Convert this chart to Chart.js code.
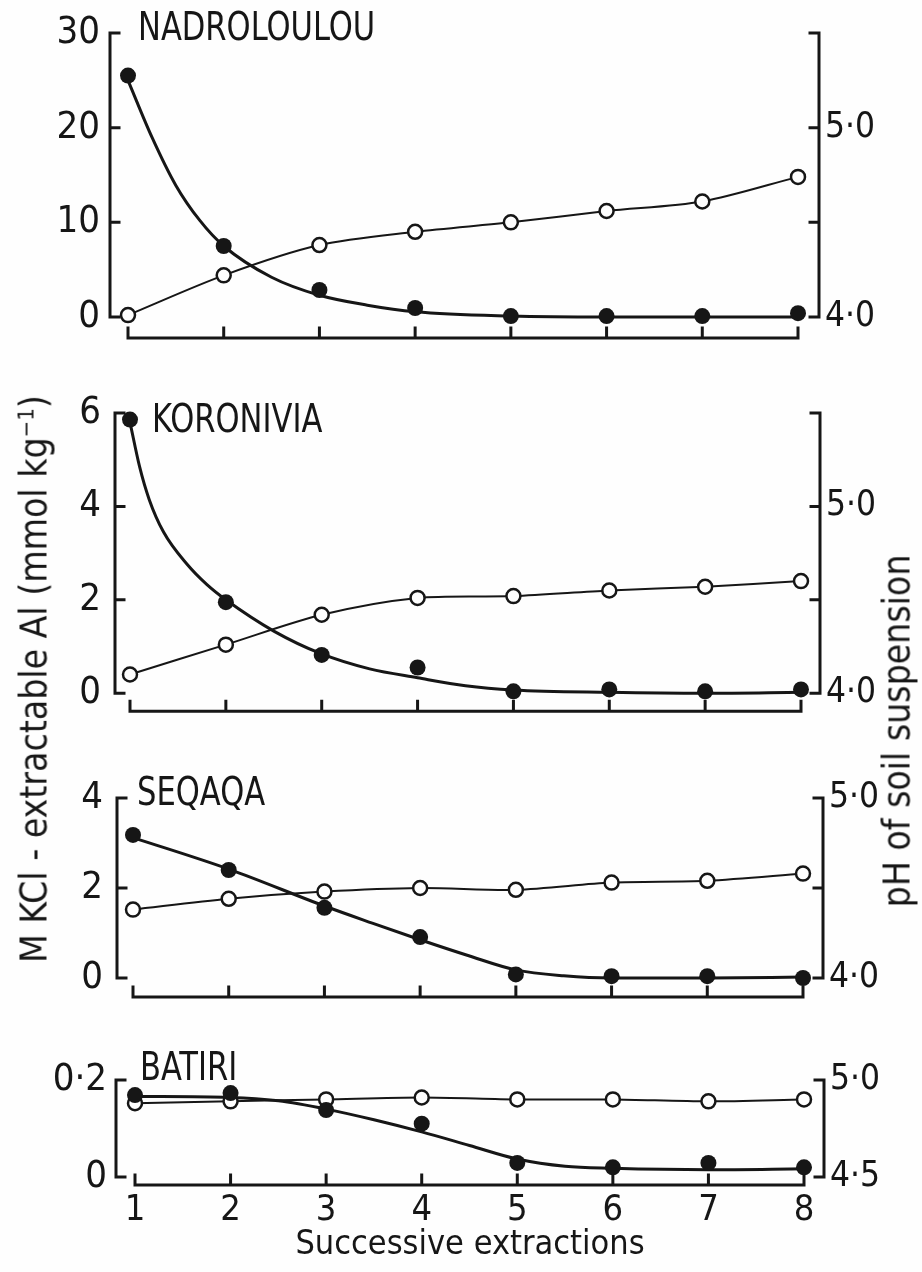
<!DOCTYPE html>
<html>
<head>
<meta charset="utf-8">
<title>Successive KCl extractions</title>
<script src="https://cdn.jsdelivr.net/npm/chart.js@4.4.1/dist/chart.umd.min.js"></script>
<style>
body {
	margin: 0;
	width: 922px;
	height: 1272px;
	position: relative;
	overflow: hidden;
	background: #fefefe;
	color: #161616;
	font-family: 'DejaVu Sans Condensed', 'Liberation Sans Narrow', 'DejaVu Sans', sans-serif;
}
canvas { position: absolute; left: 0; }
.axis-title {
	position: absolute;
	white-space: nowrap;
	font-size: 37px;
	transform: translate(-50%, -50%) rotate(-90deg);
}
.axis-title sup { font-size: 22px; }
</style>
</head>
<body>
<canvas id="nadChart"></canvas>
<canvas id="korChart"></canvas>
<canvas id="seqChart"></canvas>
<canvas id="batChart"></canvas>
<div class="axis-title" style="left:34px; top:679px;">M KCl - extractable Al (mmol kg<sup>−1</sup>)</div>
<div class="axis-title" style="left:897px; top:731px;">pH of soil suspension</div>

<script>
"use strict";

var extractions = [1, 2, 3, 4, 5, 6, 7, 8];

// NADROLOULOU
var nadAl = [25.5, 7.5, 2.85, 0.95, 0.1, 0.1, 0.1, 0.4];
var nadPh = [4.01, 4.22, 4.38, 4.45, 4.50, 4.56, 4.61, 4.74];
var nadFitX = [1, 1.25, 1.5, 1.75, 2, 2.5, 3, 3.5, 4, 5, 6, 7, 8];
var nadFitAl = [25.0, 19.0, 13.9, 10.2, 7.5, 4.2, 2.3, 1.25, 0.55, 0.1, 0, 0, 0];
var nadAlTicks = [0, 10, 20, 30];
var nadPhTicks = [4.0, 4.5, 5.0, 5.5];
var nadPhLabels = [4.0, 5.0];

// KORONIVIA
var korAl = [5.86, 1.95, 0.82, 0.55, 0.04, 0.08, 0.04, 0.08];
var korPh = [4.10, 4.26, 4.42, 4.51, 4.52, 4.55, 4.57, 4.60];
var korFitX = [1, 1.1, 1.2, 1.35, 1.6, 1.8, 2, 2.5, 3, 3.5, 4, 4.5, 5, 6, 7, 8];
var korFitAl = [5.8, 4.85, 4.15, 3.45, 2.75, 2.33, 2.0, 1.33, 0.84, 0.52, 0.33, 0.16, 0.07, 0.02, 0.0, 0.02];
var korAlTicks = [0, 2, 4, 6];
var korPhTicks = [4.0, 4.5, 5.0, 5.5];
var korPhLabels = [4.0, 5.0];

// SEQAQA
var seqAl = [3.18, 2.4, 1.56, 0.91, 0.08, 0.04, 0.04, 0.0];
var seqPh = [4.38, 4.44, 4.48, 4.50, 4.49, 4.53, 4.54, 4.58];
var seqFitX = [1, 2, 3, 3.5, 4, 4.5, 5, 5.5, 6, 7, 8];
var seqFitAl = [3.12, 2.42, 1.6, 1.22, 0.85, 0.5, 0.18, 0.05, 0.0, 0.0, 0.02];
var seqAlTicks = [0, 2, 4];
var seqPhTicks = [4.0, 4.5, 5.0];
var seqPhLabels = [4.0, 5.0];

// BATIRI
var batAl = [0.169, 0.173, 0.138, 0.11, 0.029, 0.02, 0.029, 0.02];
var batPh = [4.88, 4.89, 4.90, 4.91, 4.90, 4.90, 4.89, 4.90];
var batFitX = [1, 2, 2.5, 3, 3.5, 4, 4.5, 5, 5.5, 6, 7, 8];
var batFitAl = [0.166, 0.164, 0.157, 0.14, 0.118, 0.093, 0.065, 0.037, 0.022, 0.018, 0.015, 0.017];
var batAlTicks = [0, 0.2];
var batPhTicks = [4.5, 5.0];
var batPhLabels = [4.5, 5.0];

var FONT = "'DejaVu Sans Condensed', 'Liberation Sans Narrow', 'DejaVu Sans', sans-serif";
var INK = '#161616';
var PAGE_W = 922;

/*******************
  AXES + PANEL NAME
*******************/

// bracket style axes: ticks point inward, x axis sits below the zero line
var bracketAxes = {
	id: 'bracketAxes',
	beforeDatasetsDraw: function(chart, args, opts) {
		var ctx = chart.ctx;
		var area = chart.chartArea;
		var al = chart.scales.al;
		var ph = chart.scales.ph;
		var x = chart.scales.x;

		ctx.save();
		ctx.strokeStyle = INK;
		ctx.lineWidth = 3;
		ctx.lineCap = 'square';
		ctx.beginPath();

		ctx.moveTo(area.left, al.getPixelForValue(al.max));
		ctx.lineTo(area.left, al.getPixelForValue(al.min));
		al.ticks.forEach(function(t) {
			var py = al.getPixelForValue(t.value);
			ctx.moveTo(area.left, py);
			ctx.lineTo(area.left + 9, py);
		});

		ctx.moveTo(area.right, ph.getPixelForValue(ph.max));
		ctx.lineTo(area.right, ph.getPixelForValue(ph.min));
		ph.ticks.forEach(function(t) {
			var py = ph.getPixelForValue(t.value);
			ctx.moveTo(area.right, py);
			ctx.lineTo(area.right - 9, py);
		});

		var base = area.bottom + opts.gap;
		ctx.moveTo(x.getPixelForValue(1), base);
		ctx.lineTo(x.getPixelForValue(8), base);
		x.ticks.forEach(function(t) {
			var px = x.getPixelForValue(t.value);
			ctx.moveTo(px, base);
			ctx.lineTo(px, base - 10);
		});
		ctx.stroke();

		// the panel names are set in a tall, narrow face
		ctx.fillStyle = INK;
		ctx.font = '34px ' + FONT;
		ctx.textBaseline = 'middle';
		ctx.textAlign = 'left';
		ctx.translate(opts.nameX, opts.nameY);
		ctx.scale(1, 1.15);
		ctx.fillText(opts.name, 0, 0);
		ctx.restore();
	}
};

function dotted(v) {
	return String(v).replace('.', '·');
}

function pairs(xs, ys) {
	return xs.map(function(x, i) { return { x: x, y: ys[i] }; });
}

function drawPanel(canvasId, geo, d) {
	var canvas = document.getElementById(canvasId);
	canvas.width = PAGE_W;
	canvas.height = geo.height;
	canvas.style.top = geo.top + 'px';

	var plotTop = geo.plotTop - geo.top;
	var plotBottom = geo.plotBottom - geo.top;
	var unit = (geo.x8 - geo.x1) / 7;

	return new Chart(canvas, {
		type: 'scatter',
		data: {
			datasets: [{
				type: 'line',
				data: pairs(d.fitX, d.fitAl),
				yAxisID: 'al',
				borderColor: INK,
				borderWidth: 3,
				pointRadius: 0,
				cubicInterpolationMode: 'monotone',
				clip: false,
				order: 3
			}, {
				type: 'line',
				data: pairs(extractions, d.ph),
				yAxisID: 'ph',
				borderColor: INK,
				borderWidth: 2,
				tension: 0.3,
				pointRadius: 7,
				pointBorderWidth: 2.5,
				pointBorderColor: INK,
				pointBackgroundColor: '#fefefe',
				clip: false,
				order: 2
			}, {
				data: pairs(extractions, d.al),
				yAxisID: 'al',
				pointRadius: 8,
				pointBorderWidth: 0,
				backgroundColor: INK,
				clip: false,
				order: 1
			}]
		},
		options: {
			responsive: false,
			animation: false,
			devicePixelRatio: 1,
			layout: { padding: { top: plotTop, left: 0, right: 0, bottom: 0 } },
			plugins: {
				legend: { display: false },
				tooltip: { enabled: false },
				bracketAxes: { gap: geo.gap, name: d.name, nameX: geo.nameX, nameY: geo.nameY - geo.top }
			},
			scales: {
				x: {
					type: 'linear',
					min: 1 - (geo.x1 - geo.left) / unit,
					max: 8 + (geo.right - geo.x8) / unit,
					grid: { display: false, drawTicks: false },
					border: { display: false },
					afterBuildTicks: function(s) {
						s.ticks = extractions.map(function(v) { return { value: v }; });
					},
					afterFit: function(s) { s.height = geo.height - plotBottom; },
					ticks: {
						display: !!geo.xLabels,
						padding: 12,
						color: INK,
						font: { family: FONT, size: 36 }
					},
					title: {
						display: !!geo.xLabels,
						text: 'Successive extractions',
						color: INK,
						padding: 6,
						font: { family: FONT, size: 34 }
					}
				},
				al: {
					type: 'linear',
					position: 'left',
					min: d.alTicks[0],
					max: d.alTicks[d.alTicks.length - 1],
					grid: { display: false, drawTicks: false },
					border: { display: false },
					afterBuildTicks: function(s) {
						s.ticks = d.alTicks.map(function(v) { return { value: v }; });
					},
					afterFit: function(s) { s.width = geo.left; },
					ticks: {
						padding: geo.tickPad,
						color: INK,
						font: { family: FONT, size: 38 },
						callback: function(v) { return dotted(v); }
					}
				},
				ph: {
					type: 'linear',
					position: 'right',
					min: d.phTicks[0],
					max: d.phTicks[d.phTicks.length - 1],
					grid: { display: false, drawTicks: false },
					border: { display: false },
					afterBuildTicks: function(s) {
						s.ticks = d.phTicks.map(function(v) { return { value: v }; });
					},
					afterFit: function(s) { s.width = PAGE_W - geo.right; },
					ticks: {
						padding: 6,
						color: INK,
						font: { family: FONT, size: 35 },
						callback: function(v) {
							return d.phLabels.indexOf(v) >= 0 ? dotted(v.toFixed(1)) : '';
						}
					}
				}
			}
		},
		plugins: [bracketAxes]
	});
}

/*******************
	PANELS
*******************/

drawPanel('nadChart',
	{ top: 0, height: 360, plotTop: 33, plotBottom: 317, left: 110, right: 819, x1: 128, x8: 798, gap: 21, tickPad: 10, nameX: 138, nameY: 30 },
	{ name: 'NADROLOULOU', al: nadAl, ph: nadPh, fitX: nadFitX, fitAl: nadFitAl, alTicks: nadAlTicks, phTicks: nadPhTicks, phLabels: nadPhLabels });

drawPanel('korChart',
	{ top: 370, height: 360, plotTop: 413, plotBottom: 697, left: 115, right: 820, x1: 130, x8: 801, gap: 18, tickPad: 14, nameX: 152, nameY: 422 },
	{ name: 'KORONIVIA', al: korAl, ph: korPh, fitX: korFitX, fitAl: korFitAl, alTicks: korAlTicks, phTicks: korPhTicks, phLabels: korPhLabels });

drawPanel('seqChart',
	{ top: 740, height: 280, plotTop: 798, plotBottom: 978, left: 117, right: 823, x1: 133, x8: 803, gap: 19, tickPad: 14, nameX: 137, nameY: 795 },
	{ name: 'SEQAQA', al: seqAl, ph: seqPh, fitX: seqFitX, fitAl: seqFitAl, alTicks: seqAlTicks, phTicks: seqPhTicks, phLabels: seqPhLabels });

drawPanel('batChart',
	{ top: 1025, height: 247, plotTop: 1080, plotBottom: 1177, left: 116, right: 824, x1: 135, x8: 804, gap: 8, tickPad: 9, nameX: 140, nameY: 1070, xLabels: true },
	{ name: 'BATIRI', al: batAl, ph: batPh, fitX: batFitX, fitAl: batFitAl, alTicks: batAlTicks, phTicks: batPhTicks, phLabels: batPhLabels });
</script>
</body>
</html>
